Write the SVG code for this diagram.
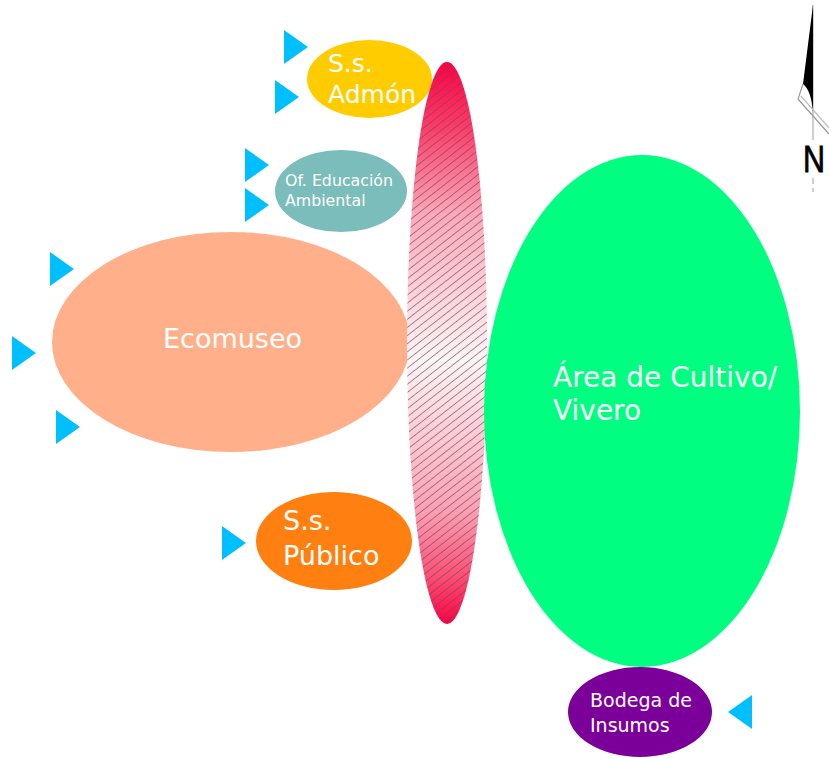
<svg xmlns="http://www.w3.org/2000/svg" width="829" height="759" viewBox="0 0 829 759">
<defs>
<linearGradient id="pinkGrad" x1="0" y1="0" x2="0" y2="1">
<stop offset="0" stop-color="#FF0044"/>
<stop offset="0.12" stop-color="#FF3D6A"/>
<stop offset="0.27" stop-color="#FFA6BA"/>
<stop offset="0.53" stop-color="#FFF4F6"/>
<stop offset="0.8" stop-color="#FF9EB4"/>
<stop offset="0.92" stop-color="#FF4A72"/>
<stop offset="1" stop-color="#FF0044"/>
</linearGradient>
<pattern id="hatch" patternUnits="userSpaceOnUse" width="8" height="6.4" patternTransform="rotate(-38)">
<line x1="0" y1="3.2" x2="8" y2="3.2" stroke="#555555" stroke-width="0.8" stroke-opacity="0.8"/>
</pattern>
<polygon id="triR" points="0,0 0,34 24,17" fill="#00BFFF"/>
</defs>
<style>
text{font-family:"DejaVu Sans",Verdana,sans-serif;fill:#ffffff}
.tri{fill:#00BFFF}
</style>
<rect width="829" height="759" fill="#ffffff"/>

<g id="connectors">
<use href="#triR" x="284" y="30"/>
<use href="#triR" x="275" y="80"/>
<use href="#triR" x="245" y="148"/>
<use href="#triR" x="245" y="188"/>
<use href="#triR" x="50" y="252"/>
<use href="#triR" x="12" y="336"/>
<use href="#triR" x="56" y="410"/>
<use href="#triR" x="222" y="526"/>
<polygon class="tri" points="752,695 752,729 728,712"/>
</g>

<g id="ecomuseo">
<ellipse cx="231" cy="342" rx="179" ry="110" fill="#FFB08A"/>
<text x="163" y="348" font-size="27">Ecomuseo</text>
</g>

<g id="ss-admon">
<ellipse cx="369.5" cy="79" rx="62.5" ry="39" fill="#FFCC00"/>
<text x="328" y="72" font-size="25">S.s.</text>
<text x="328" y="103" font-size="25">Admón</text>
</g>

<g id="of-educacion">
<ellipse cx="341" cy="191" rx="66" ry="41" fill="#7BBDBB"/>
<text x="285" y="186" font-size="15.8">Of. Educación</text>
<text x="285" y="206" font-size="15.8">Ambiental</text>
</g>

<g id="ss-publico">
<ellipse cx="334" cy="541" rx="78" ry="49" fill="#FF8010"/>
<text x="283" y="530" font-size="27">S.s.</text>
<text x="283" y="565" font-size="27">Público</text>
</g>

<g id="circulacion">
<ellipse cx="447" cy="343" rx="40" ry="281" fill="url(#pinkGrad)"/>
<ellipse cx="447" cy="343" rx="40" ry="281" fill="url(#hatch)"/>
</g>

<g id="area-cultivo">
<ellipse cx="642" cy="411" rx="158" ry="256" fill="#00FF80"/>
<text x="553" y="387" font-size="28">Área de Cultivo/</text>
<text x="553" y="420" font-size="28">Vivero</text>
</g>

<g id="bodega">
<ellipse cx="640" cy="712" rx="72" ry="45" fill="#7B0099"/>
<text x="590" y="707" font-size="19">Bodega de</text>
<text x="590" y="732" font-size="19">Insumos</text>
</g>

<g id="norte">
<line x1="813" y1="5" x2="813" y2="140" stroke="#b0b0b0" stroke-width="1.2"/>
<line x1="813" y1="178" x2="813" y2="192" stroke="#b0b0b0" stroke-width="1.2" stroke-dasharray="6,4"/>
<path d="M813,5 L803,84 Q811,90 813,112 Z" fill="#000000"/>
<path d="M803,84 L798,99 L829,134" fill="none" stroke="#9a9a9a" stroke-width="1.2"/>
<path d="M801,96 L829,128" fill="none" stroke="#bdbdbd" stroke-width="1.2"/>
<text x="803" y="172" font-size="37" textLength="22" lengthAdjust="spacingAndGlyphs" stroke="#000000" stroke-width="0.8" style="fill:#000000;font-family:'Liberation Sans',Arial,sans-serif">N</text>
</g>
</svg>
